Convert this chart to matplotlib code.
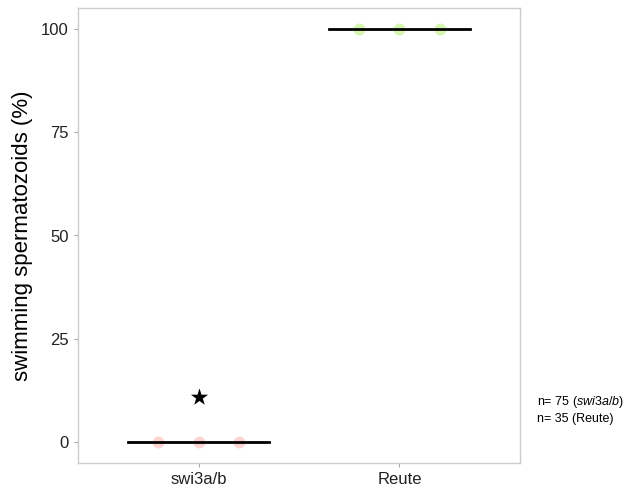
import matplotlib
matplotlib.use("Agg")
import matplotlib.pyplot as plt
import numpy as np

plt.rcParams['font.family'] = ['Liberation Sans', 'DejaVu Sans']
plt.rcParams['mathtext.fontset'] = 'custom'
plt.rcParams['mathtext.rm'] = 'Liberation Sans'
plt.rcParams['mathtext.it'] = 'Liberation Sans:italic'

# data
groups = ["swi3a/b", "Reute"]
replicates = [[0, 0, 0], [100, 100, 100]]
medians = [0, 100]
point_colors = ["#F8766D", "#7CE000"]
star_group = 0
star_value = 11

fig = plt.figure(figsize=(6.32, 4.90), dpi=100)
ax = fig.add_axes([78 / 632, 27 / 490, 442 / 632, 455 / 490])

offsets = [-0.2, 0.0, 0.2]
for i, (vals, col) in enumerate(zip(replicates, point_colors)):
    xs = [i + 1 + o for o in offsets]
    ax.scatter(xs, vals, s=75, color=col, alpha=0.3, linewidths=0, zorder=2)
    ax.plot([i + 1 - 0.35, i + 1 + 0.35], [medians[i], medians[i]],
            color="black", lw=2, zorder=3)

ax.scatter([star_group + 1], [star_value], marker="*", s=170, color="black",
           linewidths=0, zorder=4)

ax.set_xlim(0.4, 2.6)
ax.set_ylim(-5, 105)
ax.set_xticks([1, 2])
ax.set_xticklabels(groups, fontsize=12)
ax.set_yticks([0, 25, 50, 75, 100])
ax.tick_params(axis="both", colors="#aaaaaa", length=3, labelsize=12, labelcolor="#222222")
for s in ax.spines.values():
    s.set_color("#cccccc")
    s.set_linewidth(1.0)
ax.set_ylabel("swimming spermatozoids (%)", fontsize=16, labelpad=6)

fig.text(537 / 632, 1 - 402 / 490, "n= 75 ($\\it{swi3a/b}$)", fontsize=9, va="center")
fig.text(537 / 632, 1 - 419 / 490, "n= 35 (Reute)", fontsize=9, va="center")

fig.savefig("out.png", dpi=100)
